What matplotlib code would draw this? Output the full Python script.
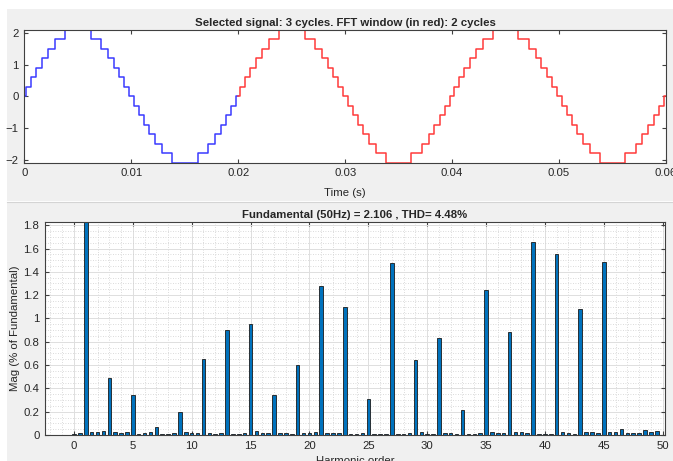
import numpy as np
import matplotlib
matplotlib.use("Agg")
import matplotlib.pyplot as plt
from matplotlib.ticker import MultipleLocator
from matplotlib.patches import Rectangle

plt.rcParams['font.family'] = ['Liberation Sans', 'DejaVu Sans']

# one cycle of the staircase signal (switch times in ms, level held after each switch)
cycle_ms = [0.0, 0.2, 0.65, 1.12, 1.65, 2.2, 2.85, 3.8,
            6.2, 7.15, 7.8, 8.35, 8.88, 9.35, 9.8,
            10.25, 10.7, 11.18, 11.7, 12.25, 12.9, 13.85,
            16.2, 17.15, 17.8, 18.35, 18.88, 19.35, 19.8]
cycle_level = [0.0, 0.3, 0.6, 0.9, 1.2, 1.5, 1.8, 2.1,
               1.8, 1.5, 1.2, 0.9, 0.6, 0.3, 0.0,
               -0.3, -0.6, -0.9, -1.2, -1.5, -1.8, -2.1,
               -1.8, -1.5, -1.2, -0.9, -0.6, -0.3, 0.0]
n_cycles = 3
period_ms = 20.0
fft_start = 0.02

# harmonic spectrum (% of fundamental), orders 0 .. 49.5 in steps of 0.5
harm_order = np.arange(0, 50, 0.5)
harm_mag = [0.005, 0.015, 100.0, 0.025, 0.03, 0.035, 0.49, 0.03, 0.02, 0.025,
            0.345, 0.005, 0.015, 0.03, 0.07, 0.005, 0.005, 0.02, 0.20, 0.025,
            0.015, 0.02, 0.65, 0.015, 0.01, 0.02, 0.905, 0.005, 0.005, 0.02,
            0.95, 0.035, 0.015, 0.02, 0.34, 0.015, 0.015, 0.01, 0.60, 0.02,
            0.015, 0.03, 1.28, 0.02, 0.02, 0.02, 1.10, 0.005, 0.005, 0.02,
            0.31, 0.01, 0.005, 0.005, 1.475, 0.01, 0.01, 0.015, 0.64, 0.03,
            0.01, 0.005, 0.835, 0.015, 0.015, 0.01, 0.215, 0.01, 0.01, 0.02,
            1.245, 0.025, 0.02, 0.02, 0.88, 0.03, 0.025, 0.02, 1.66, 0.005,
            0.005, 0.01, 1.55, 0.025, 0.015, 0.01, 1.085, 0.03, 0.025, 0.02,
            1.48, 0.03, 0.03, 0.05, 0.02, 0.015, 0.015, 0.04, 0.025, 0.035]

top_title = "Selected signal: 3 cycles. FFT window (in red): 2 cycles"
bot_title = "Fundamental (50Hz) = 2.106 , THD= 4.48%"

# build full signal from the repeated cycle
t = np.concatenate([np.array(cycle_ms) + k * period_ms for k in range(n_cycles)] + [[n_cycles * period_ms]]) / 1000.0
v = np.concatenate([np.tile(cycle_level, n_cycles), [0.0]])

W, H = 673, 461
fig = plt.figure(figsize=(W / 100, H / 100), dpi=100, facecolor='white')
panel = '#f0f0f0'
fig.patches.append(Rectangle((7 / W, 1 - 201 / H), 1, (201 - 9) / H, transform=fig.transFigure,
                             facecolor=panel, edgecolor='none', zorder=-10))
fig.patches.append(Rectangle((7 / W, 0), 1, 1 - 203 / H, transform=fig.transFigure,
                             facecolor=panel, edgecolor='none', zorder=-10))
fig.lines.append(plt.Line2D([7 / W, 1], [1 - 202 / H] * 2, transform=fig.transFigure,
                            color='#d4d4d4', lw=0.8))

txt = '#262626'
edge = '#404040'
fs = 8.2


def style(ax):
    ax.set_facecolor('white')
    for s in ax.spines.values():
        s.set_color(edge)
        s.set_linewidth(0.8)
    ax.tick_params(which='major', direction='in', length=3, width=0.8, color=edge,
                   top=True, right=True, labelsize=fs, labelcolor=txt, pad=4)


# top: time signal
ax1 = fig.add_axes([24.3 / W, 1 - 162.7 / H, (666 - 24.3) / W, (162.7 - 30) / H])
style(ax1)
blue = t <= fft_start + 1e-9
red = t >= fft_start - 1e-9
ax1.step(t[blue], v[blue], where='post', color='#3a3aff', lw=1.1)
ax1.step(t[red], v[red], where='post', color='#ff3a3a', lw=1.1)
ax1.set_xlim(0, 0.06)
ax1.set_ylim(-2.1, 2.1)
ax1.set_xticks([0, 0.01, 0.02, 0.03, 0.04, 0.05, 0.06])
ax1.set_xticklabels(['0', '0.01', '0.02', '0.03', '0.04', '0.05', '0.06'])
ax1.set_yticks([-2, -1, 0, 1, 2])
ax1.set_title(top_title, fontsize=fs, fontweight='bold', color=txt, pad=3)
ax1.set_xlabel('Time (s)', fontsize=fs, color=txt)
ax1.xaxis.set_label_coords(0.5, -0.19)

# bottom: harmonic spectrum
ax2 = fig.add_axes([45 / W, 1 - 435 / H, (665 - 45) / W, (435 - 221.7) / H])
style(ax2)
ax2.set_axisbelow(True)
ax2.xaxis.set_major_locator(MultipleLocator(5))
ax2.xaxis.set_minor_locator(MultipleLocator(1))
ax2.yaxis.set_major_locator(MultipleLocator(0.2))
ax2.yaxis.set_minor_locator(MultipleLocator(0.05))
ax2.tick_params(which='minor', length=0)
ax2.grid(which='major', color='#dedede', lw=0.7, ls='-')
ax2.grid(which='minor', color='#cfcfcf', lw=0.6, ls=(0, (1, 2)))
ax2.bar(harm_order, harm_mag, width=0.3, color='#0072bd', edgecolor='#1a1a1a', linewidth=0.6)
ax2.set_xlim(-2.46, 50.2)
ax2.set_ylim(0, 1.83)
ax2.set_yticks(np.arange(0, 1.81, 0.2))
ax2.set_yticklabels(['0', '0.2', '0.4', '0.6', '0.8', '1', '1.2', '1.4', '1.6', '1.8'])
ax2.set_title(bot_title, fontsize=fs, fontweight='bold', color=txt, pad=3)
ax2.set_ylabel('Mag (% of Fundamental)', fontsize=fs, color=txt)
ax2.yaxis.set_label_coords(-0.04, 0.5)
ax2.set_xlabel('Harmonic order', fontsize=fs, color=txt)
ax2.xaxis.set_label_coords(0.5, -0.1)

fig.savefig('out.png', dpi=100, facecolor=fig.get_facecolor())
